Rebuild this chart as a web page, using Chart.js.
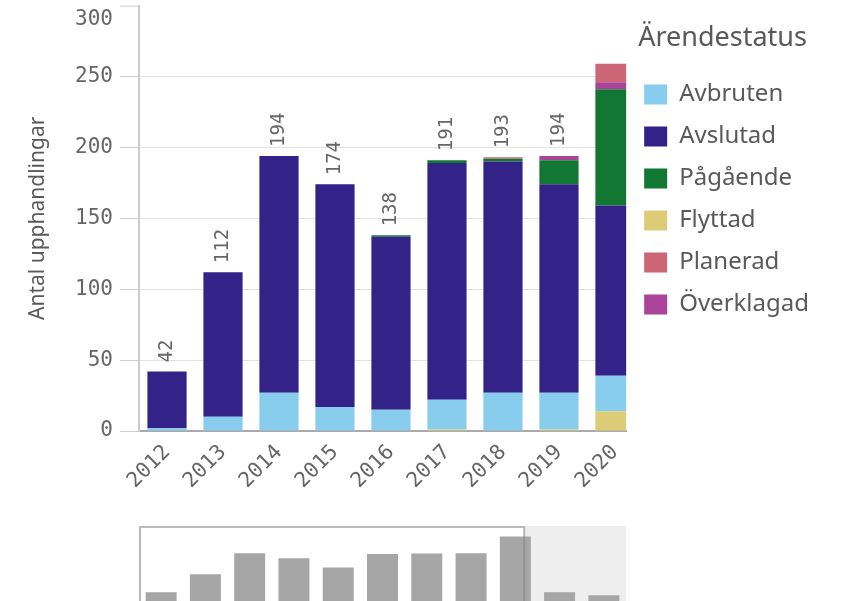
<!DOCTYPE html>
<html>
<head>
<meta charset="utf-8">
<script src="https://cdn.jsdelivr.net/npm/chart.js@4.4.1/dist/chart.umd.min.js"></script>
<style>
  html, body { margin: 0; padding: 0; background: #fff; overflow: hidden; }
  body { width: 841px; height: 601px; position: relative; }
  #main { position: absolute; left: 0; top: -14px; }
  #nav { position: absolute; left: 0; top: 524px; }
</style>
</head>
<body>
<canvas id="main" width="841" height="534"></canvas>
<canvas id="nav" width="841" height="79"></canvas>
<script>
// Procurements per year, split by case status (stack order bottom -> top)
const years      = [2012, 2013, 2014, 2015, 2016, 2017, 2018, 2019, 2020, 2021, 2022];
const flyttad    = [0, 0, 0, 0, 0, 1, 0, 1, 14, 0, 0];
const avbruten   = [2, 10, 27, 17, 15, 21, 27, 26, 25, 0, 0];
const avslutad   = [40, 102, 167, 157, 122, 167, 163, 147, 120, 0, 0];
const pagaende   = [0, 0, 0, 0, 1, 2, 2, 17, 82, 0, 0];
const overklagad = [0, 0, 0, 0, 0, 0, 0, 3, 5, 0, 0];
const planerad   = [0, 0, 0, 0, 0, 0, 1, 0, 13, 42, 30];
const yTicks = [0, 50, 100, 150, 200, 250, 300];
const legendOrder = ['Avbruten', 'Avslutad', 'Pågående', 'Flyttad', 'Planerad', 'Överklagad'];

// visible window of the main chart (the navigator shows everything)
const viewMin = 2011.5;
const viewMax = 2020.2;

const mono = "'DejaVu Sans Mono', monospace";
const sans = "'Noto Sans', sans-serif";
const grey = '#666666';
const textGrey = '#595959';

const totals = years.map((y, i) =>
  flyttad[i] + avbruten[i] + avslutad[i] + pagaende[i] + overklagad[i] + planerad[i]);

function series(label, data, color) {
  return {
    label: label,
    data: data,
    backgroundColor: color,
    borderWidth: 0,
    barPercentage: 0.7,
    categoryPercentage: 1,
    clip: 0
  };
}

// totals written vertically above each fully visible bar
const totalLabels = {
  id: 'totalLabels',
  afterDatasetsDraw(chart) {
    const { ctx, chartArea, scales: { x, y } } = chart;
    const meta = chart.getDatasetMeta(0);
    ctx.save();
    ctx.font = '19px ' + mono;
    ctx.fillStyle = grey;
    ctx.textAlign = 'left';
    ctx.textBaseline = 'middle';
    years.forEach((yr, i) => {
      const bar = meta.data[i];
      const px = x.getPixelForValue(yr);
      if (px + bar.width / 2 > chartArea.right + 1 || px < chartArea.left) return;
      ctx.save();
      ctx.translate(px, y.getPixelForValue(totals[i]) - 9);
      ctx.rotate(-Math.PI / 2);
      ctx.fillText(String(totals[i]), 0, 0);
      ctx.restore();
    });
    // top tick: label sits a bit lower so it stays inside the plot height
    const top = y.getPixelForValue(yTicks[yTicks.length - 1]);
    ctx.strokeStyle = '#cccccc';
    ctx.lineWidth = 1;
    ctx.beginPath();
    ctx.moveTo(chartArea.left - 19, top + 0.5);
    ctx.lineTo(chartArea.left, top + 0.5);
    ctx.stroke();
    ctx.font = '21px ' + mono;
    ctx.textAlign = 'right';
    ctx.fillText(String(yTicks[yTicks.length - 1]), chartArea.left - 26, top + 14);
    ctx.restore();
  }
};

new Chart(document.getElementById('main'), {
  type: 'bar',
  data: {
    labels: years,
    datasets: [
      series('Flyttad', flyttad, '#DDCC77'),
      series('Avbruten', avbruten, '#88CCEE'),
      series('Avslutad', avslutad, '#332288'),
      series('Pågående', pagaende, '#117733'),
      series('Överklagad', overklagad, '#AA4499'),
      series('Planerad', planerad, '#CC6677')
    ]
  },
  options: {
    responsive: false,
    animation: false,
    layout: { padding: { top: 19, right: 22, left: 0, bottom: 0 } },
    plugins: {
      tooltip: { enabled: false },
      legend: {
        position: 'right',
        align: 'start',
        title: {
          display: true,
          text: 'Ärendestatus',
          color: textGrey,
          font: { family: sans, size: 27 },
          padding: { top: 20, bottom: 7 }
        },
        labels: {
          boxWidth: 23,
          boxHeight: 20,
          padding: 18,
          color: textGrey,
          font: { family: sans, size: 24 },
          sort: (a, b) => legendOrder.indexOf(a.text) - legendOrder.indexOf(b.text)
        }
      }
    },
    scales: {
      x: {
        type: 'linear',
        stacked: true,
        offset: false,
        min: viewMin,
        max: viewMax,
        grid: { display: false, offset: false },
        border: { color: '#aaaaaa', width: 2 },
        ticks: {
          stepSize: 1,
          includeBounds: false,
          autoSkip: false,
          minRotation: 45,
          maxRotation: 45,
          padding: 1,
          color: grey,
          font: { family: mono, size: 21 },
          callback: v => Number.isInteger(v) ? String(v) : null
        },
        afterFit: s => { s.height = 89; }
      },
      y: {
        stacked: true,
        min: 0,
        max: 300,
        afterBuildTicks: s => { s.ticks = yTicks.map(v => ({ value: v })); },
        grid: { color: '#e3e3e3', tickColor: '#cccccc', tickLength: 19 },
        border: { color: '#cccccc', width: 2 },
        ticks: {
          padding: 7,
          color: grey,
          font: { family: mono, size: 21 },
          callback: v => v === yTicks[yTicks.length - 1] ? null : String(v)
        },
        title: {
          display: true,
          text: 'Antal upphandlingar',
          color: textGrey,
          font: { family: sans, size: 21 },
          padding: { top: 25, bottom: 0 }
        },
        afterFit: s => { s.width = 139; }
      }
    }
  },
  plugins: [totalLabels]
});

// navigator strip: all years, grey totals, selection frame over the visible window
const navFrame = {
  id: 'navFrame',
  beforeDatasetsDraw(chart) {
    const { ctx, chartArea, scales: { x } } = chart;
    const right = x.getPixelForValue(viewMax - years[0]);
    ctx.save();
    ctx.fillStyle = '#eeeeee';
    ctx.fillRect(right, 2, chartArea.right - right, chart.height);
    ctx.restore();
  },
  afterDatasetsDraw(chart) {
    const { ctx, scales: { x } } = chart;
    const left = x.getPixelForValue(viewMin - years[0]);
    const right = x.getPixelForValue(viewMax - years[0]);
    ctx.save();
    ctx.strokeStyle = 'rgba(130,130,130,0.55)';
    ctx.lineWidth = 2;
    ctx.strokeRect(left + 1, 3, right - left - 1, chart.height);
    ctx.restore();
  }
};

new Chart(document.getElementById('nav'), {
  type: 'bar',
  data: {
    labels: years.map(String),
    datasets: [{
      data: totals,
      backgroundColor: '#a6a6a6',
      borderWidth: 0,
      barPercentage: 0.7,
      categoryPercentage: 1
    }]
  },
  options: {
    responsive: false,
    animation: false,
    layout: { padding: { left: 139, right: 215, top: 3, bottom: 0 } },
    plugins: { legend: { display: false }, tooltip: { enabled: false } },
    scales: {
      x: { display: false, offset: true },
      y: { display: false, min: 0, max: 296 }
    }
  },
  plugins: [navFrame]
});
</script>
</body>
</html>
